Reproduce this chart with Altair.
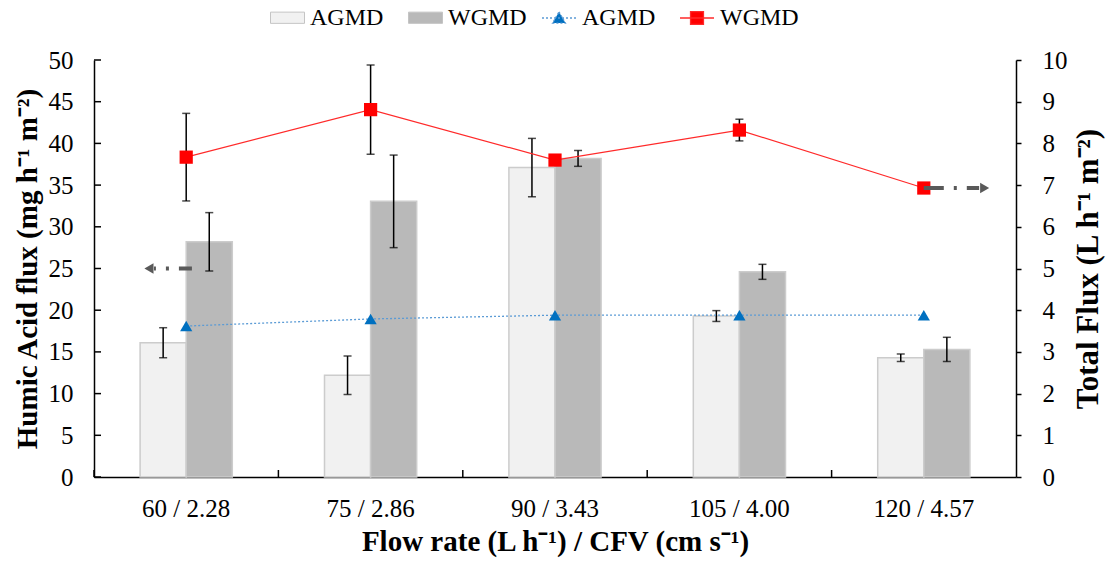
import altair as alt
import pandas as pd

# ---------------- data ----------------
categories = ["60 / 2.28", "75 / 2.86", "90 / 3.43", "105 / 4.00", "120 / 4.57"]
series = ["AGMD", "WGMD"]

# Humic acid flux (left axis, mg h-1 m-2)
agmd_ha = [16.1, 12.2, 37.1, 19.3, 14.3]
agmd_ha_err = [1.8, 2.3, 3.5, 0.65, 0.45]
wgmd_ha = [28.2, 33.05, 38.2, 24.6, 15.3]
wgmd_ha_err = [3.5, 5.55, 0.95, 0.9, 1.45]

# Total flux (right axis, L h-1 m-2)
agmd_flux = [3.62, 3.79, 3.88, 3.88, 3.88]
wgmd_flux = [7.67, 8.81, 7.6, 8.32, 6.93]
wgmd_flux_err = [1.05, 1.07, 0.12, 0.26, 0.0]

left_ticks = [0, 5, 10, 15, 20, 25, 30, 35, 40, 45, 50]
right_ticks = [0, 1, 2, 3, 4, 5, 6, 7, 8, 9, 10]

arrow_left = {"cat": ["60 / 2.28"], "y": [25]}
arrow_right = {"cat": ["120 / 4.57"], "y": [6.93]}

# ---------------- tables ----------------
bars = pd.DataFrame({
    "cat": categories * 2,
    "bar_series": ["AGMD"] * 5 + ["WGMD"] * 5,
    "value": agmd_ha + wgmd_ha,
    "err": agmd_ha_err + wgmd_ha_err,
})
bars["low"] = bars["value"] - bars["err"]
bars["high"] = bars["value"] + bars["err"]

lines = pd.DataFrame({
    "cat": categories * 2,
    "line_series": ["AGMD"] * 5 + ["WGMD"] * 5,
    "flux": agmd_flux + wgmd_flux,
    "err": [0.0] * 5 + wgmd_flux_err,
})
lines["low"] = lines["flux"] - lines["err"]
lines["high"] = lines["flux"] + lines["err"]
wg_err = lines[(lines["line_series"] == "WGMD") & (lines["err"] > 0)]

FONT = "Liberation Serif"
W, H = 922, 417
ARROW = "#595959"

x_axis = alt.Axis(title="Flow rate (L h\u207b\u00b9) / CFV (cm s\u207b\u00b9)", labelAngle=0,
                  ticks=False, labelPadding=19, titlePadding=6, grid=False)


def xenc(band=0.5):
    return alt.X("cat:N", sort=categories, bandPosition=band,
                 scale=alt.Scale(paddingInner=0, paddingOuter=0), axis=x_axis)


xoff = alt.XOffset("bar_series:N", sort=series,
                   scale=alt.Scale(paddingInner=0, paddingOuter=1))

left_axis = alt.Axis(title="Humic Acid flux (mg h\u207b\u00b9 m\u207b\u00b2)", values=left_ticks,
                     ticks=False, labelPadding=21, titlePadding=6, grid=False)
left_scale = alt.Scale(domain=[0, 50], nice=False)


def yl(field):
    return alt.Y(field, scale=left_scale, axis=left_axis)


right_axis = alt.Axis(title="Total Flux (L h\u207b\u00b9 m\u207b\u00b2)", orient="right",
                      values=right_ticks, tickSize=5, tickWidth=1.5, labelPadding=21,
                      titlePadding=6, titleAngle=270, titleBaseline="top", titleFontSize=31,
                      grid=False)
right_scale = alt.Scale(domain=[0, 10], nice=False)


def yr(field):
    return alt.Y(field, scale=right_scale, axis=right_axis)


# ---------------- left (humic acid) layers ----------------
bar_layer = alt.Chart(bars).mark_bar(stroke="#cccccc", strokeWidth=1.5).encode(
    x=xenc(), xOffset=xoff, y=yl("value:Q"),
    fill=alt.Fill("bar_series:N", scale=alt.Scale(range=["#f1f1f1", "#b9b9b9"]),
                  legend=alt.Legend(title=None, orient="none", legendX=176, legendY=-60,
                                    direction="horizontal", padding=0,
                                    symbolType="M-1,-0.33H1V0.33H-1Z", symbolSize=1156,
                                    symbolStrokeColor="#c4c4c4", symbolStrokeWidth=1,
                                    labelFont=FONT, labelFontSize=24, labelColor="black",
                                    labelOffset=5, columnPadding=22)),
)
bar_err = alt.Chart(bars).mark_rule(color="black", strokeWidth=1.5).encode(
    x=xenc(), xOffset=xoff, y=yl("low:Q"), y2="high:Q")
bar_cap_lo = alt.Chart(bars).mark_tick(orient="horizontal", size=8, thickness=1.5, color="black").encode(
    x=xenc(), xOffset=xoff, y=yl("low:Q"))
bar_cap_hi = alt.Chart(bars).mark_tick(orient="horizontal", size=8, thickness=1.5, color="black").encode(
    x=xenc(), xOffset=xoff, y=yl("high:Q"))

al = pd.DataFrame(arrow_left)
arrow_l = alt.Chart(al).mark_rule(color=ARROW, strokeWidth=4, strokeDash=[13, 10, 3, 10]).encode(
    x=xenc(0.531), x2=alt.X2("cat", bandPosition=0.325), y=yl("y:Q"))
arrow_l_head = alt.Chart(al).mark_point(shape="triangle-left", filled=True, color=ARROW,
                                        size=110, opacity=1).encode(x=xenc(0.298), y=yl("y:Q"))

lticks = alt.Chart(pd.DataFrame({"t": left_ticks})).mark_rule(color="black", strokeWidth=1.5).encode(
    y=yl("t:Q"), x=alt.value(0), x2=alt.value(7))
xticks = alt.Chart(pd.DataFrame({"cat": categories})).mark_rule(color="black", strokeWidth=1.5).encode(
    x=xenc(0), y=alt.value(H - 7), y2=alt.value(H))

left = alt.layer(bar_layer, bar_err, bar_cap_lo, bar_cap_hi, lticks, xticks, arrow_l, arrow_l_head)

# ---------------- right (total flux) layers ----------------
ag_line = alt.Chart(lines).transform_filter(alt.datum.line_series == "AGMD").mark_line(
    color="#5B9BD5", strokeWidth=1.3, strokeDash=[2, 2]).encode(x=xenc(), y=yr("flux:Q"))
wg_line = alt.Chart(lines).transform_filter(alt.datum.line_series == "WGMD").mark_line(
    color="#FF2A2A", strokeWidth=1.2).encode(x=xenc(), y=yr("flux:Q"))
wg_err_rule = alt.Chart(wg_err).mark_rule(color="black", strokeWidth=1.5).encode(
    x=xenc(), y=yr("low:Q"), y2="high:Q")
wg_cap_lo = alt.Chart(wg_err).mark_tick(orient="horizontal", size=8, thickness=1.5, color="black").encode(
    x=xenc(), y=yr("low:Q"))
wg_cap_hi = alt.Chart(wg_err).mark_tick(orient="horizontal", size=8, thickness=1.5, color="black").encode(
    x=xenc(), y=yr("high:Q"))
ag_pts = alt.Chart(lines).transform_filter(alt.datum.line_series == "AGMD").mark_point(
    shape="triangle-up", filled=True, color="#0070C0", size=150, opacity=1).encode(x=xenc(), y=yr("flux:Q"))
wg_pts = alt.Chart(lines).transform_filter(alt.datum.line_series == "WGMD").mark_point(
    shape="square", filled=True, color="#FF0000", size=175, opacity=1).encode(x=xenc(), y=yr("flux:Q"))

ar = pd.DataFrame(arrow_right)
arrow_r = alt.Chart(ar).mark_rule(color=ARROW, strokeWidth=4, strokeDash=[20, 10, 3, 10]).encode(
    x=xenc(0.5), x2=alt.X2("cat", bandPosition=0.8), y=yr("y:Q"))
arrow_r_head = alt.Chart(ar).mark_point(shape="triangle-right", filled=True, color=ARROW,
                                        size=110, opacity=1).encode(x=xenc(0.83), y=yr("y:Q"))

line_legend = alt.Legend(title=None, orient="none", legendX=447, legendY=-60, direction="horizontal",
                         padding=0, symbolSize=1156, symbolOpacity=1, symbolStrokeWidth=1.3,
                         labelFont=FONT, labelFontSize=24, labelColor="black", labelOffset=5,
                         columnPadding=21)
legend_layer = alt.Chart(lines).mark_point(filled=True, opacity=0, size=1156).encode(
    x=xenc(), y=yr("flux:Q"),
    color=alt.Color("line_series:N", scale=alt.Scale(range=["#0070C0", "#FF0000"]), legend=line_legend),
    stroke=alt.Stroke("line_series:N", scale=alt.Scale(range=["#5B9BD5", "#FF2A2A"]), legend=line_legend),
    shape=alt.Shape("line_series:N", scale=alt.Scale(range=[
        "M-1,0H1M0,-0.36L0.38,0.3H-0.38Z",
        "M-1,0H1M-0.38,-0.38H0.38V0.38H-0.38Z"]), legend=line_legend),
    strokeDash=alt.StrokeDash("line_series:N", scale=alt.Scale(range=[[2, 2], [1, 0]]), legend=line_legend),
)

right = alt.layer(ag_line, wg_line, wg_err_rule, wg_cap_lo, wg_cap_hi, ag_pts, wg_pts,
                  arrow_r, arrow_r_head, legend_layer)

chart = alt.layer(left, right).resolve_scale(y="independent").properties(
    width=W, height=H,
    autosize=alt.AutoSizeParams(type="none"),
    padding={"left": 94, "top": 60, "right": 92, "bottom": 85},
).configure(font=FONT, background="white").configure_view(strokeWidth=0).configure_axis(
    labelFont=FONT, labelFontSize=25, labelColor="black",
    titleFont=FONT, titleFontSize=29, titleFontWeight="bold", titleColor="black",
    domainColor="black", domainWidth=1.5, tickColor="black",
)

chart.save("out.html", embed_options={"renderer": "svg", "actions": False})
